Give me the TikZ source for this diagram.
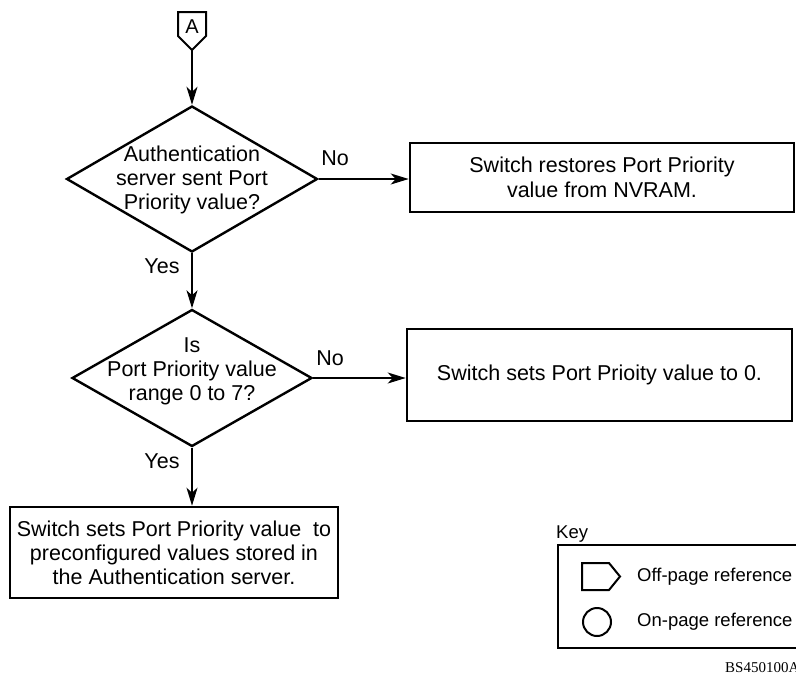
\documentclass[tikz,border=0pt]{standalone}
\usepackage{fontspec}
\setmainfont{Liberation Sans}
\newfontfamily\codefont{Liberation Serif}
\usetikzlibrary{arrows.meta,shapes.geometric}

\begin{document}
\begin{tikzpicture}[x=1pt,y=-1pt,
  txt/.style={font=\fontsize{21.5}{24}\selectfont, align=center, inner sep=0pt},
  keytxt/.style={font=\fontsize{18.5}{20}\selectfont, inner sep=0pt},
  procbox/.style={draw, rectangle, line width=2.6pt, inner sep=0pt,
    font=\fontsize{21.5}{24}\selectfont, align=center},
  decision/.style={draw, diamond, line width=2.4pt, inner sep=0pt},
  arr/.style={-{Stealth[length=18pt,width=11pt,inset=5pt]}, line width=1.5pt},
]
\useasboundingbox (0,0) rectangle (796,678);
\clip (0,0) rectangle (796,678);

% off-page connector A
\draw[line width=2pt, line join=miter] (178,12) -- (206,12) -- (206,36) -- (192,50) -- (178,36) -- cycle;
\coordinate (Abot) at (192,50);
\node[font=\fontsize{20}{20}\selectfont, inner sep=0pt] (Alab) at (192,27) {A};

% first decision
\node[decision, minimum width=251pt, minimum height=146pt] (d1) at (192,179) {};
\node[txt] (d1t) at (192,180) {Authentication\\server sent Port\\Priority value?};

% second decision
\node[decision, minimum width=240pt, minimum height=137pt] (d2) at (192,378) {};
\node[txt] (d2t) at (192,371) {Is\\Port Priority value\\range 0 to 7?};

% process boxes
\node[procbox, minimum width=384pt, minimum height=69pt] (b1) at (602,177.5)
  {Switch restores Port Priority\\[1pt]value from NVRAM.};
\node[procbox, minimum width=385pt, minimum height=92pt] (b2) at (599.5,375)
  {Switch sets Port Prioity value to 0.};
\node[procbox, minimum width=328pt, minimum height=91pt] (b3) at (174,552.5)
  {Switch sets Port Priority value~ to\\preconfigured values stored in\\the Authentication server.};

% connectors
\draw[arr] (Abot) -- (d1.north);
\draw[arr] (d1.east) -- (d1.east -| b1.west);
\draw[arr] (d1.south) -- (d2.north);
\draw[arr] (d2.east) -- (d2.east -| b2.west);
\draw[arr] (d2.south) -- (d2.south |- b3.north);

% branch labels
\node[txt] (no1) at (335,158) {No};
\node[txt] (yes1) at (162,266) {Yes};
\node[txt] (no2) at (330,358) {No};
\node[txt] (yes2) at (162,461) {Yes};

% key
\node[keytxt, anchor=west] (keyt) at (556,534) {Key};
\node[draw, line width=1.5pt, anchor=north west, minimum width=250pt, minimum height=103pt,
  inner sep=0pt] (keybox) at (557,544) {};
\draw[line width=2pt, line join=miter] (582,563) -- (609,563) -- (620,576.5) -- (609,590) -- (582,590) -- cycle;
\node[keytxt, anchor=west] (offt) at (637,577) {Off-page reference};
\node[draw, circle, line width=2pt, minimum size=28pt, inner sep=0pt] (onpg) at (597,622) {};
\node[keytxt, anchor=west] (ont) at (637,622) {On-page reference};

% figure code, running off the right edge
\node[anchor=west, inner sep=0pt, font=\codefont\fontsize{15}{15}\selectfont] (code) at (725,668) {BS450100A};
\end{tikzpicture}
\end{document}
